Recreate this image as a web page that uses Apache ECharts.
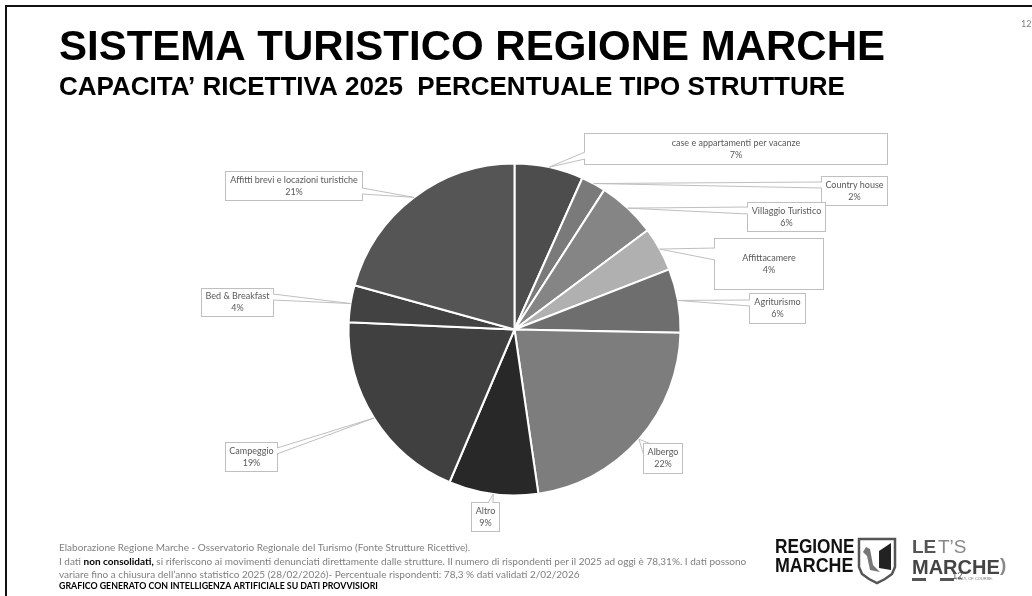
<!DOCTYPE html>
<html>
<head>
<meta charset="utf-8">
<style>html,body{margin:0;padding:0;background:#fff}#c{width:1032px;height:596px}</style>
<script src="https://cdn.jsdelivr.net/npm/echarts@6/dist/echarts.min.js"></script>
</head>
<body>
<div id="c"></div>
<script>
const categories = ['case e appartamenti per vacanze','Country house','Villaggio Turistico','Affittacamere','Agriturismo','Albergo','Altro','Campeggio','Bed & Breakfast','Affitti brevi e locazioni turistiche'];
const shares = [6.7,2.4,5.7,4.3,6.2,22.4,8.7,19.3,3.6,20.7];
const sliceColors = ['#4d4d4d','#7a7a7a','#858585','#b0b0b0','#6e6e6e','#7d7d7d','#282828','#404040','#424242','#555555'];
const boxes = [[585,134,302,30],[822,177,65,28],[748,203,77,28],[715,239,108,50],[750,294,55,29],[644,444,38,29],[472,503,27,28],[226,443,51,28],[202,289,71,27],[226,172,136,28]];
const bases = [[[585,152],[585,159]],[[822,182],[822,188]],[[748,207],[748,214]],[[715,248],[715,260]],[[750,300],[750,306]],[[651,444],[644,456]],[[488,503],[493,503]],[[277,448],[277,454]],[[273,294],[273,300]],[[362,188],[362,194]]];
const titleText = 'SISTEMA TURISTICO REGIONE MARCHE';
const subtitleText = 'CAPACITA\u2019 RICETTIVA 2025  PERCENTUALE TIPO STRUTTURE';
const footer1 = 'Elaborazione Regione Marche - Osservatorio Regionale del Turismo (Fonte Strutture Ricettive).';
const footer2a = 'I dati ';
const footer2b = 'non consolidati,';
const footer2c = ' si riferiscono ai movimenti denunciati direttamente dalle strutture. Il numero di rispondenti per il 2025 ad oggi \u00e8 78,31%. I dati possono';
const footer3 = 'variare fino a chiusura dell\u2019anno statistico 2025 (28/02/2026)- Percentuale rispondenti: 78,3 % dati validati 2/02/2026';
const footer4 = 'GRAFICO GENERATO CON INTELLIGENZA ARTIFICIALE SU DATI PROVVISIORI';

const cx = 514.5, cy = 329.5, R = 166;
const total = shares.reduce((a,b)=>a+b,0);
let cum = 0;
const callouts = [];
shares.forEach((v,i)=>{
  const a = (cum + v/2)/total*2*Math.PI; cum += v;
  const apex = [cx + R*Math.sin(a), cy - R*Math.cos(a)];
  const b = bases[i];
  callouts.push({type:'polyline',z:100,silent:true,shape:{points:[b[0],b[1]]},style:{stroke:'#fff',lineWidth:2,fill:null}});
  callouts.push({type:'polyline',z:101,silent:true,shape:{points:[b[0],apex,b[1]]},style:{stroke:'#bfbfbf',lineWidth:1,fill:null}});
});

const txt = (x,y,text,font,fill,extra)=>Object.assign({type:'text',z:110,silent:true,x,y,style:Object.assign({text,font,fill},extra||{})});
const chart = echarts.init(document.getElementById('c'),null,{renderer:'canvas'});
chart.setOption({
  animation:false,
  backgroundColor:'#fff',
  title:[
    {text:titleText,left:59,top:26,padding:0,textStyle:{fontFamily:'Liberation Sans',fontWeight:'bold',fontSize:42,color:'#000',lineHeight:44}},
    {text:subtitleText,left:59,top:74,padding:0,textStyle:{fontFamily:'Liberation Sans',fontWeight:'bold',fontSize:26,color:'#000',lineHeight:28}}
  ],
  series:[{
    type:'pie',
    center:[cx,cy],radius:[0,R],startAngle:90,clockwise:true,
    avoidLabelOverlap:false,silent:true,
    itemStyle:{borderColor:'#fff',borderWidth:2},
    labelLine:{show:false},
    data:categories.map((n,i)=>({name:n,value:shares[i],
      itemStyle:{color:sliceColors[i]},
      label:{width:boxes[i][2],height:boxes[i][3]}})),
    label:{show:true,position:'outside',
      formatter:p=>p.name+'\n'+Math.round(p.value)+'%',
      fontFamily:'Lato',fontSize:9,lineHeight:12,color:'#595959',align:'center',verticalAlign:'middle',
      backgroundColor:'#fff',borderColor:'#bfbfbf',borderWidth:1},
    labelLayout:p=>{const b=boxes[p.dataIndex];return {x:b[0]+b[2]/2,y:b[1]+b[3]/2,align:'center',verticalAlign:'middle'};}
  }],
  graphic:{elements:[
    {type:'line',z:120,silent:true,shape:{x1:5,y1:6,x2:1032,y2:6},style:{stroke:'#111',lineWidth:2}},
    {type:'line',z:120,silent:true,shape:{x1:6,y1:5,x2:6,y2:596},style:{stroke:'#111',lineWidth:2}},
    txt(1021,20,'12','9px Lato','#7f7f7f'),
    txt(59,543,footer1,'10px Lato','#7f7f7f'),
    {type:'text',z:110,silent:true,x:59,y:557,style:{
      text:'{a|'+footer2a+'}{b|'+footer2b+'}{a|'+footer2c+'}',
      rich:{a:{font:'10px Lato',fill:'#7f7f7f'},b:{font:'bold 10px Lato',fill:'#000'}}}},
    txt(59,570,footer3,'10px Lato','#7f7f7f'),
    Object.assign(txt(59,581,footer4,'bold 10px Lato','#000'),{scaleX:0.88}),
    ...callouts,
    Object.assign(txt(775,537,'REGIONE','bold 21px "Liberation Sans"','#111'),{scaleX:0.82}),
    Object.assign(txt(775,556,'MARCHE','bold 21px "Liberation Sans"','#111'),{scaleX:0.85}),
    {type:'polygon',z:110,silent:true,shape:{points:[[859,539],[895,539],[895,567],[892,574],[885,579],[877,583],[869,579],[862,574],[859,567]]},style:{fill:'#fff',stroke:'#555',lineWidth:2.5}},
    {type:'polygon',z:111,silent:true,shape:{points:[[879,568],[879,551],[891,543],[891,570]]},style:{fill:'#222'}},
    {type:'polygon',z:111,silent:true,shape:{points:[[863,552],[866,547],[870,549],[873,565],[880,572],[870,570],[867,556]]},style:{fill:'#777'}},
    txt(912,538,'LE','bold 19px "Liberation Sans"','#555'),
    txt(938,538,'T\u2019S','19px "Liberation Sans"','#888'),
    txt(912,558,'MARCHE','bold 20px "Liberation Sans"','#444'),
    txt(1000,556,')','bold 19px "Liberation Sans"','#888'),
    {type:'rect',z:110,silent:true,shape:{x:912,y:578,width:14,height:3},style:{fill:'#555'}},
    {type:'rect',z:110,silent:true,shape:{x:940,y:578,width:14,height:3},style:{fill:'#555'}},
    txt(956,577,'ITALY, OF COURSE.','4px "Liberation Sans"','#777'),
    txt(952,572,'12','9px Lato','#555')
  ]}
});
</script>
</body>
</html>
